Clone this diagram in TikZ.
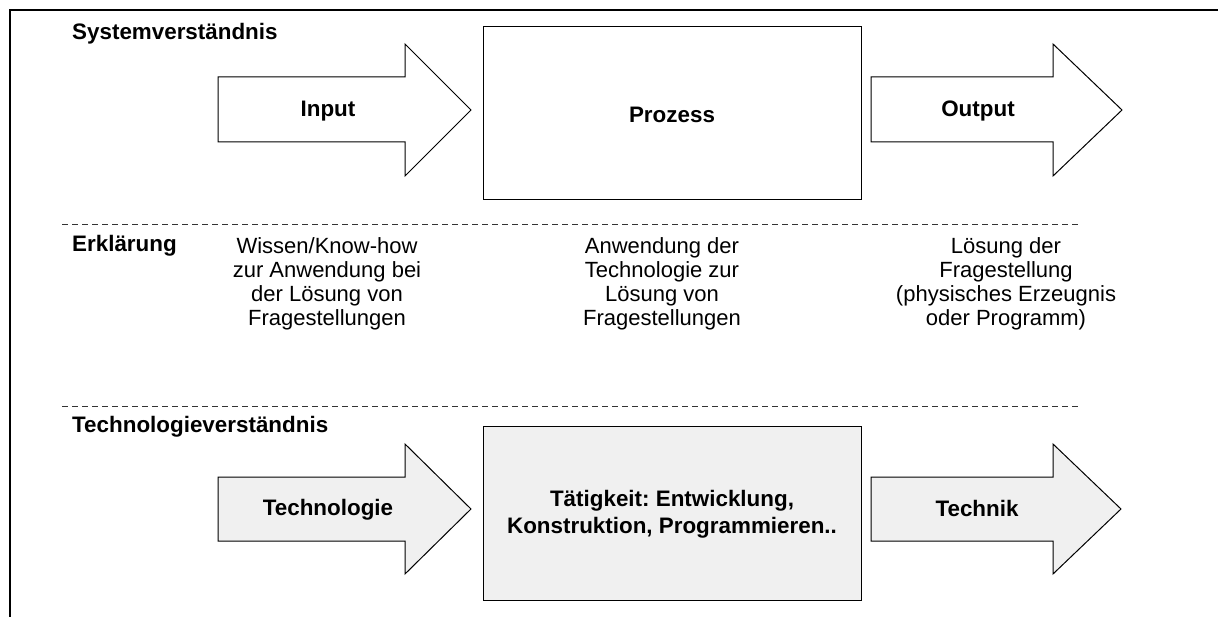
\documentclass[tikz,border=0pt]{standalone}
\usepackage{fontspec}
\setmainfont{Liberation Sans}
\definecolor{boxgray}{HTML}{F0F0F0}
\frenchspacing
\begin{document}
\begin{tikzpicture}[x=1pt,y=-1pt,
  frame/.style={line width=2.8pt},
  shp/.style={draw=black, line width=1pt, line join=miter},
  sep/.style={draw=black!80, line width=0.9pt, dash pattern=on 6pt off 4pt},
  head/.style={font=\fontsize{22.4}{27}\selectfont\bfseries, inner sep=0pt},
  body/.style={font=\fontsize{22}{23.8}\selectfont, align=center, inner sep=0pt, anchor=north},
]
\useasboundingbox (0,0) rectangle (1218,617);
% frame
\draw[frame] (10,617) -- (10,10) -- (1218,10);
% top row
\draw[shp, fill=white] (218,77) -- (405,77) -- (405,44) -- (471,110) -- (405,176) -- (405,142) -- (218,142) -- cycle;
\draw[shp, fill=white] (483,27) rectangle (861,200);
\draw[shp, fill=white] (871,77) -- (1053,77) -- (1053,44) -- (1122,110) -- (1053,176) -- (1053,142) -- (871,142) -- cycle;
% bottom row
\draw[shp, fill=boxgray] (218,477) -- (405,477) -- (405,444) -- (471,509) -- (405,574) -- (405,541) -- (218,541) -- cycle;
\draw[shp, fill=boxgray] (483,426) rectangle (861,600);
\draw[shp, fill=boxgray] (871,477) -- (1053,477) -- (1053,444) -- (1121,509) -- (1053,574) -- (1053,541) -- (871,541) -- cycle;
% separators
\draw[sep] (62,224) -- (1080,224);
\draw[sep] (62,406) -- (1080,406);
% section labels
\node[head, anchor=base west] (sys) at (72,40) {Systemverständnis};
\node[head, anchor=base west] (erk) at (72,252) {Erklärung};
\node[head, anchor=base west] (tech) at (72,432) {Technologieverständnis};
% shape labels
\node[head] (in) at (328,111) {Input};
\node[head] (proz) at (672,115) {Prozess};
\node[head] (out) at (978,111) {Output};
\node[head] (tgie) at (328,510) {Technologie};
\node[head, align=center] (taet) at (672,514) {Tätigkeit: Entwicklung,\\Konstruktion, Programmieren..};
\node[head] (tnik) at (977,508) {Technik};
% explanations
\node[body] (wiss) at (327,236.84) {\strut Wissen/Know-how\\zur Anwendung bei\\der Lösung von\\Fragestellungen};
\node[body] (anw) at (662,236.84) {\strut Anwendung der\\Technologie zur\\Lösung von\\Fragestellungen};
\node[body] (loes) at (1006,236.84) {\strut Lösung der\\Fragestellung\\(physisches Erzeugnis\\oder Programm)};
\end{tikzpicture}
\end{document}
